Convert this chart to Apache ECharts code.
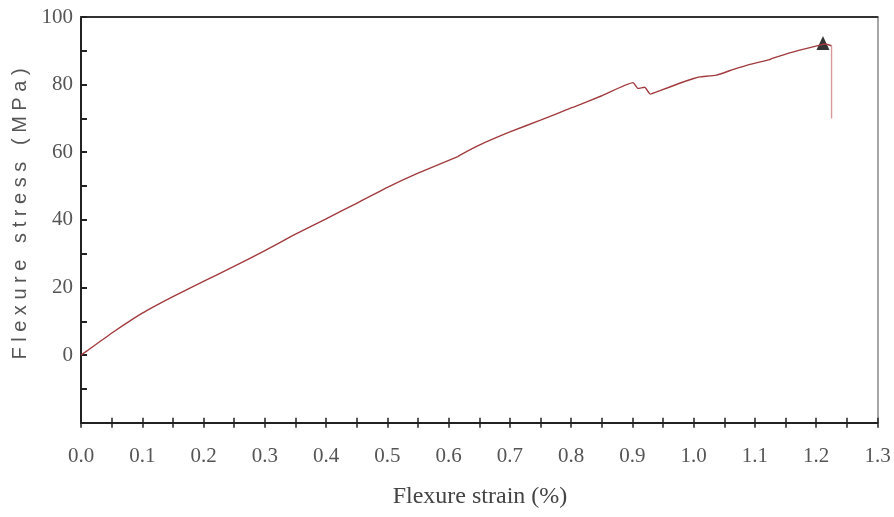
<!DOCTYPE html>
<html>
<head>
<meta charset="utf-8">
<script src="https://cdn.jsdelivr.net/npm/echarts@6/dist/echarts.min.js"></script>
<style>
html,body{margin:0;padding:0;background:#fff;}
#chart{width:894px;height:517px;}
</style>
</head>
<body>
<div id="chart"></div>
<script>
// Flexure curve (strain %, stress MPa)
var strain = [0, 0.011, 0.051, 0.10, 0.15, 0.199, 0.248, 0.297, 0.346, 0.40, 0.449, 0.452, 0.50, 0.55, 0.615, 0.618, 0.65, 0.70, 0.75, 0.80, 0.805, 0.85, 0.901, 0.909, 0.920, 0.929, 0.945, 0.977, 1.00, 1.01, 1.037, 1.065, 1.092, 1.124, 1.127, 1.163, 1.206, 1.215, 1.225];
var stress = [0, 1.4, 6.6, 12.4, 17.3, 21.7, 26.1, 30.6, 35.4, 40.3, 44.8, 45.1, 49.6, 53.8, 58.7, 59.1, 62.1, 66.0, 69.5, 73.1, 73.4, 76.7, 80.6, 78.9, 79.2, 77.2, 78.2, 80.4, 81.8, 82.3, 82.8, 84.5, 86.0, 87.4, 87.7, 89.7, 91.7, 92.0, 91.5];
// Failure drop
var dropStrain = [1.225, 1.225];
var dropStress = [91.5, 70.0];
// Peak marker
var peakStrain = [1.211];
var peakStress = [92.3];
// Axis ranges / ticks
var xMin = 0, xMax = 1.3, xTickStep = 0.05, xLabelStep = 0.1;
var yMin = -20, yMax = 100, yTickStep = 10, yLabelStep = 20;
var xTitle = 'Flexure strain (%)';
var yTitle = 'F l e x u r e   s t r e s s   ( M P a )';

function pairs(a, b) { return a.map(function (v, i) { return [v, b[i]]; }); }

var chart = echarts.init(document.getElementById('chart'), null, {renderer: 'canvas'});
var labelFont = {fontFamily: 'Liberation Serif', fontSize: 21, color: '#555'};

chart.setOption({
  backgroundColor: '#fff',
  animation: false,
  grid: {left: 81, right: 16.5, top: 17, bottom: 94.3, show: false},
  xAxis: [{
    type: 'value', min: xMin, max: xMax, interval: xTickStep, position: 'bottom',
    axisLine: {show: true, onZero: false, lineStyle: {color: '#222', width: 2}},
    axisTick: {show: true, inside: false, length: 5, lineStyle: {color: '#222', width: 1.5}},
    splitLine: {show: false},
    axisLabel: Object.assign({
      margin: 23,
      formatter: function (v) {
        var k = Math.round(v / xTickStep);
        return (k % 2 === 0) ? v.toFixed(1) : '';
      }
    }, labelFont)
  }, {
    type: 'value', min: xMin, max: xMax, interval: xTickStep, position: 'bottom',
    axisLine: {show: false, onZero: false},
    axisTick: {show: true, inside: true, length: 5, lineStyle: {color: '#222', width: 1.5}},
    splitLine: {show: false}, axisLabel: {show: false}
  }, {
    type: 'value', min: xMin, max: xMax, position: 'top',
    axisLine: {show: true, onZero: false, lineStyle: {color: '#333', width: 2}},
    axisTick: {show: false}, splitLine: {show: false}, axisLabel: {show: false}
  }],
  yAxis: [{
    type: 'value', min: yMin, max: yMax, interval: yTickStep, position: 'left',
    axisLine: {show: true, onZero: false, lineStyle: {color: '#222', width: 2}},
    axisTick: {show: true, inside: true, length: 6, lineStyle: {color: '#222', width: 2}},
    splitLine: {show: false},
    axisLabel: Object.assign({
      margin: 8,
      formatter: function (v) {
        var r = Math.round(v);
        return (r >= 0 && r % yLabelStep === 0) ? String(r) : '';
      }
    }, labelFont)
  }, {
    type: 'value', min: yMin, max: yMax, position: 'right',
    axisLine: {show: true, onZero: false, lineStyle: {color: '#888', width: 1.5}},
    axisTick: {show: false}, splitLine: {show: false}, axisLabel: {show: false}
  }],
  series: [{
    type: 'line', xAxisIndex: 0, yAxisIndex: 0,
    data: pairs(strain, stress), showSymbol: false, symbol: 'none', smooth: 0.15,
    lineStyle: {color: '#a23b3e', width: 1.4}
  }, {
    type: 'line', xAxisIndex: 0, yAxisIndex: 0,
    data: pairs(dropStrain, dropStress), showSymbol: false, symbol: 'none',
    lineStyle: {color: '#d9989a', width: 1.4}
  }, {
    type: 'scatter', xAxisIndex: 0, yAxisIndex: 0,
    data: pairs(peakStrain, peakStress), symbol: 'triangle', symbolSize: [13, 14],
    itemStyle: {color: '#000'}
  }],
  graphic: [{
    type: 'text', x: 480, y: 497,
    style: {text: xTitle, fontFamily: 'Liberation Serif', fontSize: 24, fill: '#444',
      textAlign: 'center', textVerticalAlign: 'middle'}
  }, {
    type: 'text', x: 20, y: 214, rotation: Math.PI / 2,
    style: {text: yTitle, fontFamily: 'Liberation Sans', fontSize: 20, fill: '#555',
      textAlign: 'center', textVerticalAlign: 'middle'}
  }]
});
</script>
</body>
</html>
